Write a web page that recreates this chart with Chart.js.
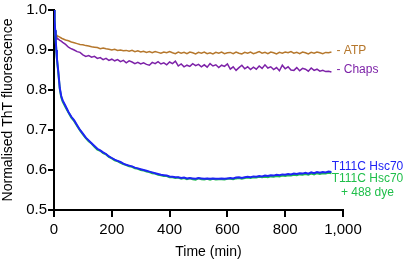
<!DOCTYPE html>
<html>
<head>
<meta charset="utf-8">
<script src="https://cdn.jsdelivr.net/npm/chart.js@4/dist/chart.umd.min.js"></script>
<style>
  html, body { margin: 0; padding: 0; background: #fff; }
  #wrap { width: 406px; height: 263px; }
</style>
</head>
<body>
<div id="wrap"><canvas id="thtChart"></canvas></div>
<script>
// time points (min)
const times = [0, 2, 4, 6, 8, 10, 15, 20, 25, 30,
  40, 50, 60, 70, 80, 90, 100, 110, 120, 130, 140, 150, 160, 170, 180, 190,
  200, 210, 220, 230, 240, 250, 260, 270, 280, 290, 300, 310, 320, 330, 340, 350,
  360, 370, 380, 390, 400, 410, 420, 430, 440, 450, 460, 470, 480, 490, 500, 510,
  520, 530, 540, 550, 560, 570, 580, 590, 600, 610, 620, 630, 640, 650, 660, 670,
  680, 690, 700, 710, 720, 730, 740, 750, 760, 770, 780, 790, 800, 810, 820, 830,
  840, 850, 860, 870, 880, 890, 900, 910, 920, 930, 940, 950, 960];

const atpValues = [1.000, 0.960, 0.945, 0.940, 0.938, 0.936, 0.934, 0.932, 0.930, 0.928,
  0.925, 0.923, 0.920, 0.918, 0.916, 0.914, 0.913, 0.911, 0.910, 0.908, 0.907, 0.906, 0.903, 0.905, 0.903, 0.902,
  0.900, 0.902, 0.899, 0.900, 0.898, 0.899, 0.897, 0.899, 0.896, 0.898, 0.895, 0.897, 0.894, 0.896, 0.893, 0.896,
  0.894, 0.892, 0.895, 0.893, 0.896, 0.893, 0.891, 0.895, 0.892, 0.894, 0.891, 0.895, 0.893, 0.890, 0.894, 0.892,
  0.895, 0.891, 0.893, 0.890, 0.894, 0.892, 0.895, 0.891, 0.893, 0.894, 0.891, 0.895, 0.892, 0.890, 0.894, 0.892,
  0.895, 0.891, 0.893, 0.896, 0.892, 0.894, 0.891, 0.895, 0.893, 0.890, 0.894, 0.892, 0.895, 0.893, 0.896, 0.892,
  0.894, 0.891, 0.895, 0.893, 0.890, 0.894, 0.892, 0.895, 0.893, 0.891, 0.894, 0.893, 0.895];

const chapsValues = [1.000, 0.950, 0.938, 0.934, 0.932, 0.930, 0.927, 0.924, 0.922, 0.919,
  0.914, 0.907, 0.903, 0.900, 0.896, 0.894, 0.888, 0.884, 0.886, 0.882, 0.884, 0.879, 0.881, 0.876, 0.879, 0.874,
  0.877, 0.873, 0.876, 0.871, 0.874, 0.868, 0.873, 0.870, 0.866, 0.869, 0.865, 0.868, 0.864, 0.862, 0.869, 0.866,
  0.871, 0.865, 0.868, 0.863, 0.870, 0.866, 0.872, 0.860, 0.865, 0.858, 0.862, 0.859, 0.866, 0.861, 0.864, 0.858,
  0.863, 0.857, 0.866, 0.860, 0.863, 0.856, 0.862, 0.859, 0.865, 0.852, 0.858, 0.849, 0.856, 0.862, 0.853, 0.858,
  0.851, 0.857, 0.852, 0.860, 0.854, 0.863, 0.855, 0.858, 0.851, 0.856, 0.848, 0.862, 0.853, 0.858, 0.850, 0.849,
  0.856, 0.848, 0.854, 0.852, 0.847, 0.855, 0.849, 0.852, 0.847, 0.849, 0.846, 0.847, 0.845];

const hscValues = [1.000, 0.975, 0.950, 0.925, 0.900, 0.880, 0.845, 0.805, 0.785, 0.774,
  0.760, 0.745, 0.733, 0.724, 0.712, 0.700, 0.691, 0.681, 0.674, 0.667, 0.660, 0.653, 0.649, 0.644, 0.640, 0.634,
  0.630, 0.626, 0.623, 0.620, 0.616, 0.613, 0.611, 0.609, 0.606, 0.604, 0.602, 0.600, 0.598, 0.596, 0.594, 0.592,
  0.590, 0.588, 0.587, 0.586, 0.584, 0.583, 0.582, 0.582, 0.580, 0.581, 0.579, 0.580, 0.579, 0.578, 0.580, 0.579,
  0.578, 0.579, 0.578, 0.579, 0.578, 0.578, 0.579, 0.578, 0.579, 0.580, 0.579, 0.581, 0.582, 0.580, 0.582, 0.583,
  0.582, 0.584, 0.583, 0.585, 0.584, 0.586, 0.585, 0.587, 0.586, 0.588, 0.587, 0.589, 0.588, 0.590, 0.589, 0.591,
  0.590, 0.592, 0.591, 0.593, 0.591, 0.594, 0.592, 0.595, 0.593, 0.595, 0.594, 0.596, 0.595];

const hscDyeValues = [1.000, 0.974, 0.948, 0.922, 0.898, 0.878, 0.842, 0.803, 0.782, 0.771,
  0.757, 0.744, 0.731, 0.722, 0.710, 0.699, 0.689, 0.680, 0.672, 0.666, 0.658, 0.651, 0.648, 0.642, 0.639, 0.633,
  0.629, 0.624, 0.622, 0.618, 0.615, 0.612, 0.609, 0.608, 0.604, 0.603, 0.600, 0.599, 0.596, 0.595, 0.592, 0.591,
  0.588, 0.587, 0.585, 0.585, 0.582, 0.582, 0.580, 0.581, 0.578, 0.580, 0.577, 0.579, 0.577, 0.576, 0.579, 0.577,
  0.576, 0.578, 0.576, 0.578, 0.576, 0.577, 0.577, 0.576, 0.578, 0.578, 0.577, 0.579, 0.580, 0.578, 0.580, 0.581,
  0.580, 0.582, 0.581, 0.583, 0.582, 0.583, 0.582, 0.584, 0.583, 0.585, 0.584, 0.586, 0.585, 0.587, 0.586, 0.588,
  0.587, 0.589, 0.588, 0.590, 0.588, 0.591, 0.589, 0.592, 0.590, 0.592, 0.591, 0.593, 0.592];

const xTicks = [0, 200, 400, 600, 800, 1000];
const yTicks = [0.5, 0.6, 0.7, 0.8, 0.9, 1.0];
const xTitle = 'Time (min)';

// series labels at the right end of the lines
const seriesLabels = [
  { lines: ['- ATP'], color: '#b5772c', value: 0.898, align: 'left', dx: 5 },
  { lines: ['- Chaps'], color: '#7d22a8', value: 0.850, align: 'left', dx: 5 },
  { lines: ['T111C Hsc70'], color: '#1f23f5', value: 0.609, align: 'center', dx: 36 },
  { lines: ['T111C Hsc70', '+ 488 dye'], color: '#1fbf4a', value: 0.579, align: 'center', dx: 36 }
];

const FONT = '"Liberation Sans", Arial, sans-serif';

function toPoints(values) {
  return times.map((t, i) => ({ x: t, y: values[i] }));
}

const labelPlugin = {
  id: 'endLabels',
  afterDraw(chart) {
    const ctx = chart.ctx;
    const xs = chart.scales.x;
    const ys = chart.scales.y;
    const xEnd = xs.getPixelForValue(times[times.length - 1]);
    ctx.save();
    ctx.font = '12px ' + FONT;
    ctx.textBaseline = 'middle';
    seriesLabels.forEach(lab => {
      ctx.fillStyle = lab.color;
      ctx.textAlign = lab.align;
      const y0 = ys.getPixelForValue(lab.value);
      lab.lines.forEach((line, i) => {
        ctx.fillText(line, xEnd + lab.dx, y0 + i * 14);
      });
    });
    // x axis title, sits a little right of the axis centre in the original
    ctx.fillStyle = '#000';
    ctx.font = '14px ' + FONT;
    ctx.textAlign = 'center';
    ctx.fillText(xTitle, (xs.left + xs.right) / 2 + 10, 252);
    ctx.restore();
  }
};

const chart = new Chart(document.getElementById('thtChart'), {
  type: 'line',
  data: {
    datasets: [
      { label: 'T111C Hsc70', data: toPoints(hscValues), borderColor: '#1f23f5', borderWidth: 2, order: 0 },
      { label: 'T111C Hsc70 + 488 dye', data: toPoints(hscDyeValues), borderColor: '#1fbf4a', borderWidth: 2, order: 1 },
      { label: 'Chaps', data: toPoints(chapsValues), borderColor: '#7d22a8', borderWidth: 1.5, order: 2 },
      { label: 'ATP', data: toPoints(atpValues), borderColor: '#b5772c', borderWidth: 1.5, order: 3 }
    ]
  },
  options: {
    responsive: true,
    maintainAspectRatio: false,
    animation: false,
    elements: { point: { radius: 0 }, line: { tension: 0, fill: false } },
    layout: { padding: { top: 7, right: 63, left: 0, bottom: 0 } },
    plugins: { legend: { display: false }, tooltip: { enabled: false } },
    scales: {
      x: {
        type: 'linear',
        min: 0,
        max: 1000,
        afterBuildTicks: s => { s.ticks = xTicks.map(v => ({ value: v })); },
        afterFit: s => { s.height = 53; },
        ticks: {
          color: '#000',
          font: { family: FONT, size: 15 },
          padding: 4,
          maxRotation: 0,
          callback: v => v.toLocaleString('en-US')
        },
        grid: { drawOnChartArea: false, color: '#000', lineWidth: 2, tickLength: 7 },
        border: { color: '#000', width: 2 }
      },
      y: {
        min: 0.5,
        max: 1.0,
        afterBuildTicks: s => { s.ticks = yTicks.map(v => ({ value: v })); },
        afterFit: s => { s.width = 54; },
        ticks: {
          color: '#000',
          font: { family: FONT, size: 15 },
          padding: 1,
          callback: v => v.toFixed(1)
        },
        grid: { drawOnChartArea: false, color: '#000', lineWidth: 2, tickLength: 6 },
        border: { color: '#000', width: 2 },
        title: {
          display: true,
          text: 'Normalised ThT fluorescence',
          color: '#000',
          font: { family: FONT, size: 14 },
          padding: { top: 0, bottom: 0 }
        }
      }
    }
  },
  plugins: [labelPlugin]
});
</script>
</body>
</html>
